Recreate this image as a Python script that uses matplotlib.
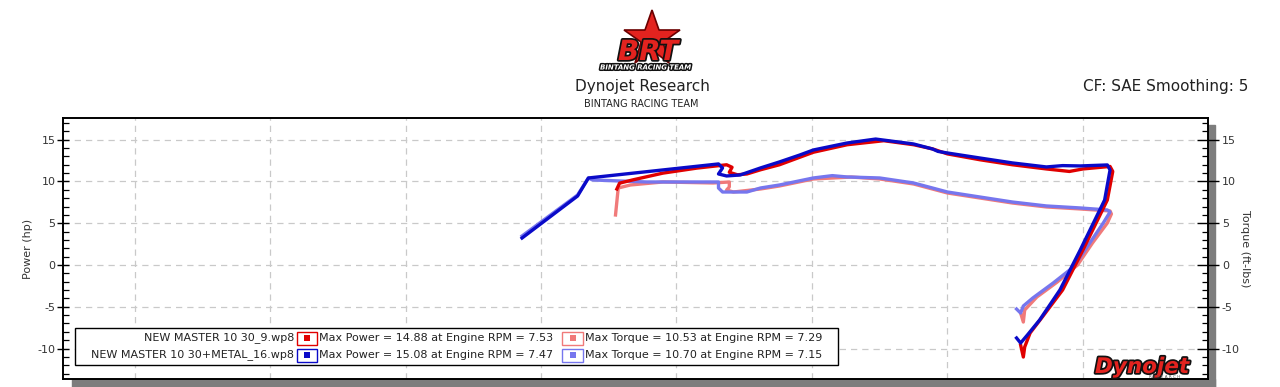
import matplotlib
matplotlib.use('Agg')
import matplotlib.pyplot as plt
from matplotlib.patches import Rectangle
import matplotlib.patheffects as pe
from matplotlib.ticker import MultipleLocator

plt.rcParams['axes.unicode_minus'] = False

# ---------------- data (x = engine RPM x1000, y = hp / ft-lbs) ----------------
run_files = ["NEW MASTER 10 30_9.wp8", "NEW MASTER 10 30+METAL_16.wp8"]
max_power = [14.88, 15.08]
max_power_rpm = [7.53, 7.47]
max_torque = [10.53, 10.70]
max_torque_rpm = [7.29, 7.15]

# run 2 (blue) power
blue_power_x = [4.86, 5.27, 5.35, 6.31, 6.34, 6.31, 6.37, 6.47, 6.62, 6.76, 6.91, 7.01, 7.26,
                7.47, 7.75, 7.89, 7.93, 8.00, 8.24, 8.48, 8.73, 8.85, 8.98, 9.18, 9.20, 9.16,
                8.98, 8.83, 8.68, 8.59, 8.54, 8.51]
blue_power_y = [3.23, 8.26, 10.42, 12.10, 11.62, 10.90, 10.66, 10.78, 11.62, 12.34, 13.17, 13.77,
                14.61, 15.08, 14.49, 13.89, 13.60, 13.41, 12.81, 12.22, 11.74, 11.90, 11.86, 11.98,
                11.38, 7.78, 1.80, -2.99, -6.59, -8.38, -9.34, -8.74]
# run 2 (blue) torque
blue_torque_x = [4.86, 5.27, 5.35, 5.38, 5.78, 6.27, 6.31, 6.31, 6.34, 6.52, 6.62, 6.76, 7.01,
                 7.15, 7.26, 7.50, 7.75, 8.00, 8.24, 8.48, 8.73, 8.98, 9.18, 9.20, 9.15, 9.05,
                 8.93, 8.78, 8.63, 8.56, 8.54, 8.51]
blue_torque_y = [3.47, 8.38, 10.42, 10.18, 9.94, 9.94, 9.94, 9.22, 8.74, 8.74, 9.22, 9.58, 10.42,
                 10.70, 10.54, 10.42, 9.82, 8.74, 8.14, 7.54, 7.07, 6.83, 6.59, 6.35, 5.03, 2.63,
                 -0.24, -2.16, -3.95, -4.91, -5.75, -5.27]
# run 1 (red) power
red_power_x = [5.56, 5.58, 5.68, 5.90, 6.15, 6.37, 6.41, 6.39, 6.45, 6.52, 6.62, 6.76, 6.91,
               7.01, 7.26, 7.53, 7.75, 7.89, 8.00, 8.24, 8.48, 8.73, 8.90, 9.00, 9.20, 9.22,
               9.18, 9.00, 8.85, 8.70, 8.61, 8.57, 8.56, 8.54]
red_power_y = [9.10, 9.80, 10.20, 11.00, 11.60, 12.00, 11.70, 11.10, 10.80, 10.90, 11.40, 12.00,
               12.90, 13.50, 14.40, 14.88, 14.40, 13.90, 13.30, 12.60, 12.00, 11.50, 11.20,
               11.50, 11.80, 11.20, 7.78, 1.80, -2.99, -6.23, -8.14, -9.82, -11.02, -9.58]
# run 1 (red) torque
red_torque_x = [5.55, 5.57, 5.66, 5.90, 6.27, 6.39, 6.39, 6.37, 6.42, 6.62, 6.76, 7.01, 7.29,
                7.50, 7.75, 8.00, 8.24, 8.48, 8.73, 8.98, 9.20, 9.21, 9.18, 9.07, 8.96, 8.81,
                8.66, 8.57, 8.56, 8.54]
red_torque_y = [5.99, 9.22, 9.58, 9.94, 9.82, 9.94, 9.34, 8.98, 8.74, 9.10, 9.46, 10.30, 10.53,
                10.30, 9.70, 8.62, 8.02, 7.42, 6.95, 6.71, 6.47, 6.11, 5.03, 2.63, 0.00, -2.04,
                -3.83, -5.39, -6.83, -5.75]

y_ticks = [-10, -5, 0, 5, 10, 15]
x_grid = [2, 3, 4, 5, 6, 7, 8, 9]

# ---------------- styling ----------------
C_RED = '#e00000'
C_RED_T = '#f07a7a'
C_BLUE = '#0a0ac8'
C_BLUE_T = '#7676ee'

W, H = 1280, 387
fig = plt.figure(figsize=(W / 100, H / 100), dpi=100)
fig.patch.set_facecolor('white')


def fx(px):
    return px / W


def fy(py):
    return 1 - py / H


# drop shadow behind the plot frame
fig.patches.append(Rectangle((fx(72), fy(387)), fx(1215) - fx(72), fy(379) - fy(387),
                             transform=fig.transFigure, color='#7d7d7d', zorder=-1))
fig.patches.append(Rectangle((fx(1208), fy(387)), fx(1215) - fx(1208), fy(125) - fy(387),
                             transform=fig.transFigure, color='#7d7d7d', zorder=-1))

ax = fig.add_axes([fx(63), fy(379), (1208 - 63) / W, (379 - 118) / H])
ax2 = ax.twinx()
ylim = (-13.65, 17.6)
xlim = (1.472, 9.923)
for a in (ax, ax2):
    a.set_ylim(*ylim)
    a.set_xlim(*xlim)
    a.set_yticks(y_ticks)
    a.yaxis.set_minor_locator(MultipleLocator(1))
    for s in a.spines.values():
        s.set_color('black')
        s.set_linewidth(1.2)

ax.set_xticks(x_grid)
ax.tick_params(axis='x', length=0, labelbottom=False)
ax.grid(True, which='major', linestyle=(0, (5, 4)), color='#c9c9c9', linewidth=0.9)
ax.tick_params(axis='y', which='major', direction='inout', length=9, width=1,
               labelsize=8, labelcolor='#333333', pad=1)
ax.tick_params(axis='y', which='minor', direction='in', length=4, width=0.9)
ax2.tick_params(axis='y', which='major', direction='inout', length=16, width=1,
                labelsize=8, labelcolor='#333333', pad=2)
ax2.tick_params(axis='y', which='minor', direction='in', length=4, width=0.9)

ax.set_ylabel('Power (hp)', fontsize=8, color='#333333', labelpad=3)
ax2.set_ylabel('Torque (ft-lbs)', fontsize=8, color='#333333', rotation=270, labelpad=7)

lw = 2.4
ax2.plot(red_torque_x, red_torque_y, color=C_RED_T, lw=lw, solid_joinstyle='round', zorder=2)
ax2.plot(blue_torque_x, blue_torque_y, color=C_BLUE_T, lw=lw, solid_joinstyle='round', zorder=3)
ax2.plot(red_power_x, red_power_y, color=C_RED, lw=lw, solid_joinstyle='round', zorder=4)
ax2.plot(blue_power_x, blue_power_y, color=C_BLUE, lw=lw, solid_joinstyle='round', zorder=5)

# ---------------- overlay (header, legend, logos) in pixel coords ----------------
ov = fig.add_axes([0, 0, 1, 1], zorder=10)
ov.set_xlim(0, W)
ov.set_ylim(H, 0)
ov.axis('off')

# BRT logo
ov.plot([652], [39], marker='*', markersize=42, color='#e3231f', markeredgecolor='#6b0000',
        markeredgewidth=1.2)
ov.text(648, 52, 'BRT', fontsize=20, fontweight='heavy', fontstyle='italic', color='#e3231f',
        ha='center', va='center', family='DejaVu Sans',
        path_effects=[pe.withStroke(linewidth=2.5, foreground='#111111')])
ov.text(646, 67.5, 'BINTANG RACING TEAM', fontsize=5, fontweight='bold', fontstyle='italic',
        color='white', ha='center', va='center',
        path_effects=[pe.withStroke(linewidth=2.2, foreground='#111111')])

ov.text(642, 87, 'Dynojet Research', fontsize=11, color='#222222', ha='center', va='center')
ov.text(641, 104, 'BINTANG RACING TEAM', fontsize=7, color='#222222', ha='center', va='center')
ov.text(1248, 87, 'CF: SAE Smoothing: 5', fontsize=11, color='#222222', ha='right', va='center')

# legend box
ov.add_patch(Rectangle((75, 328), 838 - 75, 365 - 328, facecolor='white', edgecolor='black',
                       linewidth=1.0))
row_y = [338, 355]
pow_cols = [C_RED, C_BLUE]
tq_cols = [C_RED_T, C_BLUE_T]
for i in range(2):
    y = row_y[i]
    ov.text(294, y, run_files[i], fontsize=8, color='#222222', ha='right', va='center')
    ov.add_patch(Rectangle((297, y - 6.5), 20, 13, facecolor='white', edgecolor=pow_cols[i],
                           linewidth=1.0))
    ov.add_patch(Rectangle((304, y - 3), 6, 6, facecolor=pow_cols[i], edgecolor='none'))
    ov.text(319, y, f"Max Power = {max_power[i]:.2f} at Engine RPM = {max_power_rpm[i]:.2f}",
            fontsize=8, color='#222222', ha='left', va='center')
    ov.add_patch(Rectangle((562, y - 6.5), 21, 13, facecolor='white', edgecolor=tq_cols[i],
                           linewidth=1.0))
    ov.add_patch(Rectangle((569.5, y - 3), 6, 6, facecolor=tq_cols[i], edgecolor='none'))
    ov.text(585, y, f"Max Torque = {max_torque[i]:.2f} at Engine RPM = {max_torque_rpm[i]:.2f}",
            fontsize=8, color='#222222', ha='left', va='center')

# Dynojet logo
ov.text(1142, 367, 'Dynojet', fontsize=15.5, fontweight='heavy', fontstyle='italic',
        color='#e3231f', ha='center', va='center',
        path_effects=[pe.withStroke(linewidth=2.5, foreground='#111111')])
ov.text(1165, 377.5, 'R E S E A R C H', fontsize=3, color='#555555', ha='center', va='center')

fig.savefig('out.png', dpi=100)
